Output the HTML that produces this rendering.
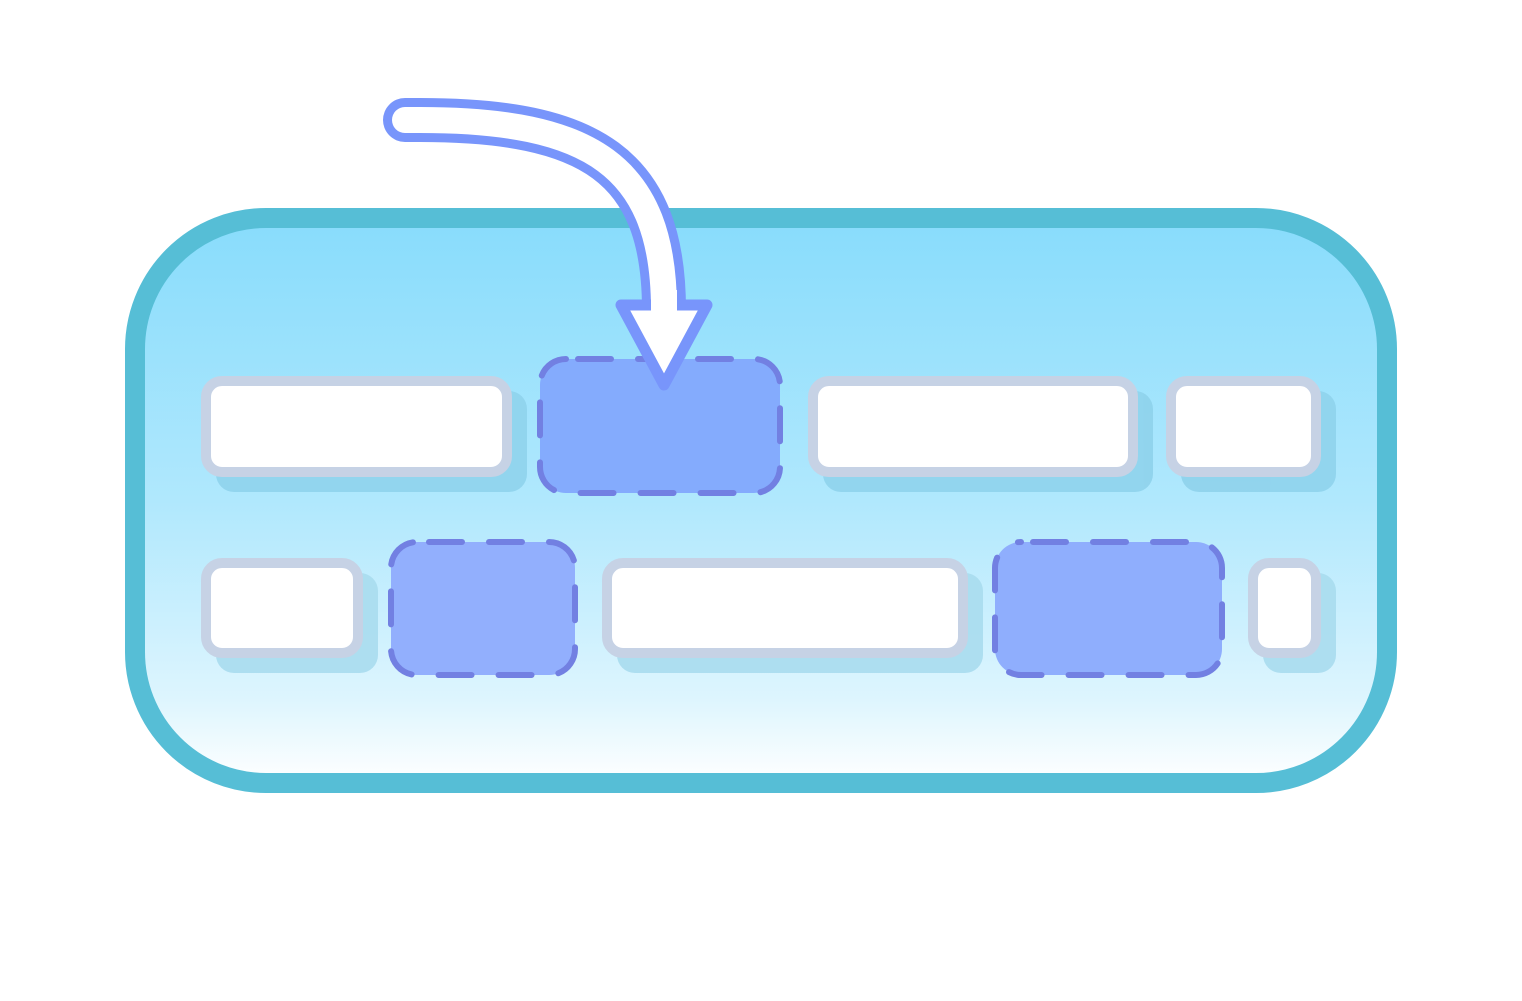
<!DOCTYPE html>
<html><head><meta charset="utf-8"><style>html,body{margin:0;padding:0;background:#fff}svg{display:block}</style></head>
<body>
<svg width="1522" height="1001" viewBox="0 0 1522 1001" xmlns="http://www.w3.org/2000/svg">
<defs>
<linearGradient id="g" x1="0" y1="0" x2="0" y2="1">
<stop offset="0" stop-color="#88DCFC"/>
<stop offset="0.5" stop-color="#B0E8FD"/>
<stop offset="0.85" stop-color="#DDF5FE"/>
<stop offset="1" stop-color="#FFFFFF"/>
</linearGradient>
</defs>
<rect x="135" y="218" width="1252" height="565" rx="131" fill="url(#g)" stroke="#56BED6" stroke-width="20"/>
<g fill="#8FD3EC" opacity="0.9">
<rect x="216" y="391" width="311" height="101" rx="18"/>
<rect x="823" y="391" width="330" height="101" rx="18"/>
<rect x="1181" y="391" width="155" height="101" rx="18"/>
</g>
<g fill="#A8DCEE" opacity="0.9">
<rect x="216" y="573" width="162" height="100" rx="18"/>
<rect x="617" y="573" width="366" height="100" rx="18"/>
<rect x="1263" y="573" width="73" height="100" rx="18"/>
</g>
<g fill="#fff" stroke="#C6D2E5" stroke-width="10">
<rect x="206" y="381" width="301" height="91" rx="16"/>
<rect x="813" y="381" width="320" height="91" rx="16"/>
<rect x="1171" y="381" width="145" height="91" rx="16"/>
<rect x="206" y="563" width="152" height="90" rx="16"/>
<rect x="607" y="563" width="356" height="90" rx="16"/>
<rect x="1253" y="563" width="63" height="90" rx="16"/>
</g>
<g stroke="#7280E2" stroke-width="6" stroke-dasharray="33 27" stroke-dashoffset="-12" stroke-linecap="round">
<rect x="540" y="359" width="240" height="134" rx="26" fill="#84ABFD"/>
<rect x="391" y="542" width="184" height="133" rx="26" fill="#92AFFD"/>
<rect x="995" y="542" width="227" height="133" rx="26" fill="#8FAEFD"/>
</g>
<path d="M405,120 L420,120 C590,120 664,165 664,310" fill="none" stroke="#7895FB" stroke-width="44" stroke-linecap="round"/>
<path d="M405,120 L420,120 C590,120 664,165 664,310" fill="none" stroke="#fff" stroke-width="26" stroke-linecap="round"/>
<path d="M621,305 L707,305 L664,385 Z" fill="#fff" stroke="#7895FB" stroke-width="11" stroke-linejoin="round"/>
<rect x="651" y="290" width="26" height="21" fill="#fff"/>
</svg>
</body></html>
